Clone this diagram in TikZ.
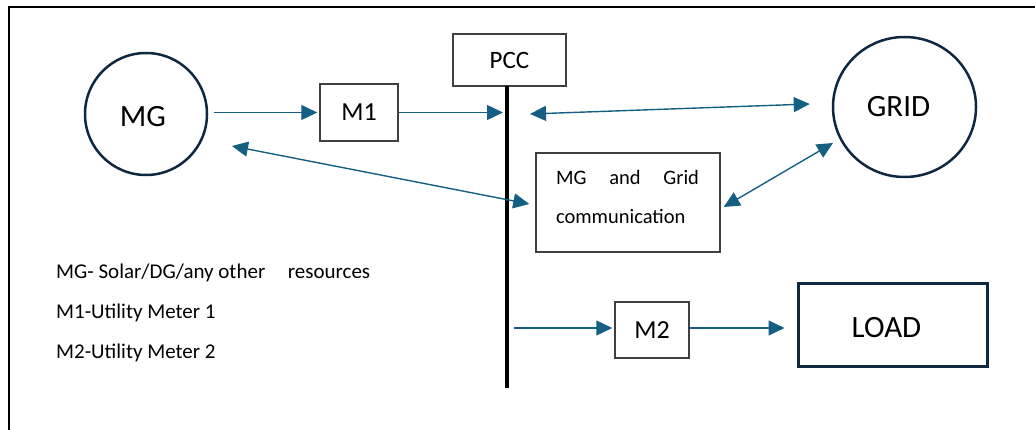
\documentclass[tikz,border=0pt]{standalone}
\usepackage{fontspec}
\setmainfont{Carlito}
\usetikzlibrary{arrows.meta,calc,shapes.geometric}

\definecolor{flow}{HTML}{156082}
\definecolor{navy}{HTML}{0E2841}
\definecolor{boxline}{HTML}{3F3F3F}

\tikzset{
  unit/.style={draw=navy, line width=2.5pt, inner sep=0pt},
  meter/.style={draw=boxline, line width=1.5pt, inner sep=0pt},
  big/.style={font=\fontsize{31}{36}\selectfont},
  arr/.style={draw=flow, line width=1.4pt,
    -{Triangle[length=16pt,width=15pt]}},
  dbl/.style={draw=flow, line width=1.4pt,
    {Triangle[length=16pt,width=15pt]}-{Triangle[length=16pt,width=15pt]}},
  legend/.style={anchor=base west, inner sep=0pt,
    font=\fontsize{21}{24}\selectfont},
}

\begin{document}
\begin{tikzpicture}[x=1pt, y=-1pt]
\useasboundingbox (0,0) rectangle (1035,430);

% page frame (top and left edges)
\draw[line width=2pt] (8.5,430) -- (8.5,7) -- (1035,7);

% sources, meters and loads
\node[unit, circle, minimum size=122pt,
  label={[big, xshift=-3pt, yshift=-3pt]center:MG}] (mg) at (146,114) {};
\node[unit, ellipse, minimum width=143pt, minimum height=140pt,
  label={[big, xshift=-6pt]center:GRID}] (grid) at (904.5,107) {};
\node[meter, rectangle, minimum width=78pt, minimum height=57pt,
  font=\fontsize{26}{30}\selectfont] (m1) at (359,112.5) {M1};
\node[meter, rectangle, minimum width=113pt, minimum height=52pt,
  font=\fontsize{25}{30}\selectfont] (pcc) at (509.5,60) {PCC};
\node[meter, rectangle, minimum width=184pt, minimum height=99pt]
  (comm) at (628,202.5) {};
\node[inner sep=0pt, text width=143pt, align=left,
  font=\fontsize{20.5}{39}\selectfont] (commtxt) at (627.5,196.5)
  {\makebox[143pt][s]{MG\hfill and\hfill Grid}\\communication};
\node[meter, rectangle, minimum width=74pt, minimum height=56pt,
  font=\fontsize{26}{30}\selectfont] (m2) at (652,330) {M2};
\node[draw=navy, line width=3pt, rectangle, minimum width=189pt,
  minimum height=83pt, inner sep=0pt,
  label={[big, xshift=-6pt, yshift=-3pt]center:LOAD}] (load) at (892.5,324.5) {};

% common coupling bus
\coordinate (bustop) at (507,86);
\coordinate (busbot) at (507,388);
\draw[line width=4pt] (bustop) -- (busbot);

% power and communication flows
\draw[arr] ($(mg.east |- m1.west)+(6,0)$) -- ($(m1.west)+(-2,0)$);
\draw[arr] (m1.east) -- ($(m1.east -| bustop)+(-4,0)$);
\draw[dbl] ($(bustop)+(23,28)$) -- ($(grid.west)+(-22,-3)$);
\draw[dbl] ($(mg.center)+(86,32)$) -- ($(comm.west)+(-6,1.5)$);
\draw[dbl] ($(comm.east)+(3,4.5)$) -- ($(grid.center)+(-71.5,36)$);
\draw[arr] ($(m2.west -| busbot)+(7,-2)$) -- ($(m2.west)+(-2,-2)$);
\draw[arr] ($(m2.east)+(0,-2)$) -- ($(m2.east -| load.west)+(-12,-2)$);

% legend
\node[legend] (lg1) at (56,278)
  {\makebox[314pt][l]{MG- Solar/DG/any other\hfill resources}};
\node[legend] (lg2) at (56,318) {M1-Utility Meter 1};
\node[legend] (lg3) at (56,358) {M2-Utility Meter 2};
\end{tikzpicture}
\end{document}
